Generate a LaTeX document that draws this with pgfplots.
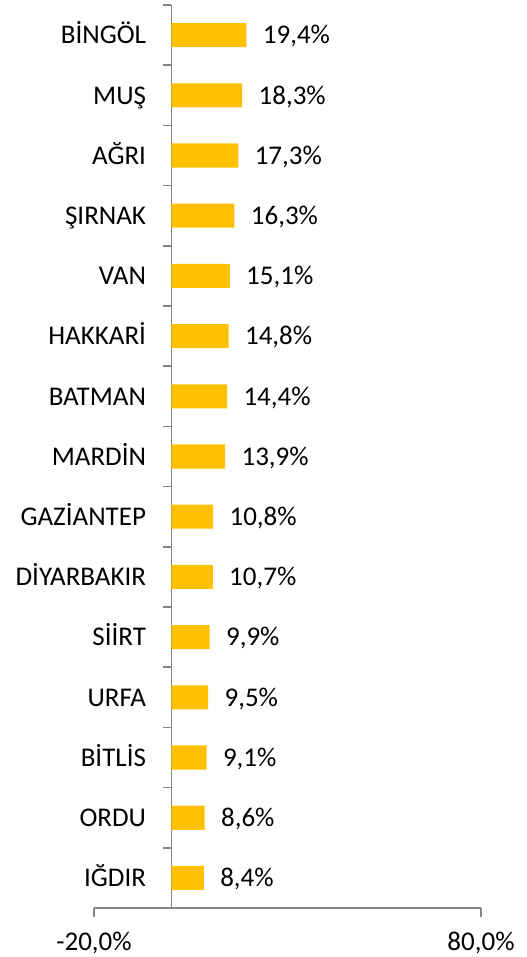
\documentclass[border=0pt]{standalone}
\usepackage{fontspec}
\setmainfont{Carlito}
\usepackage{pgfplots}
\pgfplotsset{compat=1.18}
\definecolor{barc}{HTML}{FFC000}
\definecolor{axc}{HTML}{868686}
\begin{document}
\fontsize{13.5bp}{16bp}\selectfont
\begin{tikzpicture}
\begin{axis}[
    at={(0,0)}, anchor=south west,
    scale only axis,
    width=193.5bp, height=451.5bp,
    xbar, bar width=0.4,
    xmin=-20, xmax=80, ymin=-0.5, ymax=14.5,
    y dir=reverse,
    axis x line=bottom, axis y line=center,
    axis line style={axc, line width=0.75bp, -},
    xtick={-20,80},
    xticklabels={{-20,0\%},{80,0\%}},
    ytick={0,...,14},
    yticklabels={BİNGÖL,MUŞ,AĞRI,ŞIRNAK,VAN,HAKKARİ,BATMAN,MARDİN,GAZİANTEP,DİYARBAKIR,SİİRT,URFA,BİTLİS,ORDU,IĞDIR},
    major y tick style={draw=none},
    minor ytick={-0.5,0.5,...,14.5},
    tick align=outside,
    tick style={axc, line width=0.75bp},
    major tick length=4.5bp, minor tick length=4bp,
    xticklabel style={yshift=-3bp},
    yticklabel style={anchor=east, xshift=-3.5bp, text height=8.7bp, text depth=0pt},
    point meta=x,
    nodes near coords={\pgfmathprintnumber[use comma,fixed,fixed zerofill,precision=1]{\pgfplotspointmeta}\%},
    every node near coord/.append style={black, anchor=west, xshift=3.5bp, text height=8.7bp, text depth=0pt},
    /pgf/number format/assume math mode=true,
    font=\fontsize{13.5bp}{16bp}\selectfont,
]
\addplot[fill=barc, draw=none] coordinates {
(19.4,0) (18.3,1) (17.3,2) (16.3,3) (15.1,4) (14.8,5) (14.4,6) (13.9,7)
(10.8,8) (10.7,9) (9.9,10) (9.5,11) (9.1,12) (8.6,13) (8.4,14)};
\end{axis}
\pgfresetboundingbox
\path (-47bp,-24.5bp) rectangle (216.5bp,454bp);
\end{tikzpicture}
\end{document}
